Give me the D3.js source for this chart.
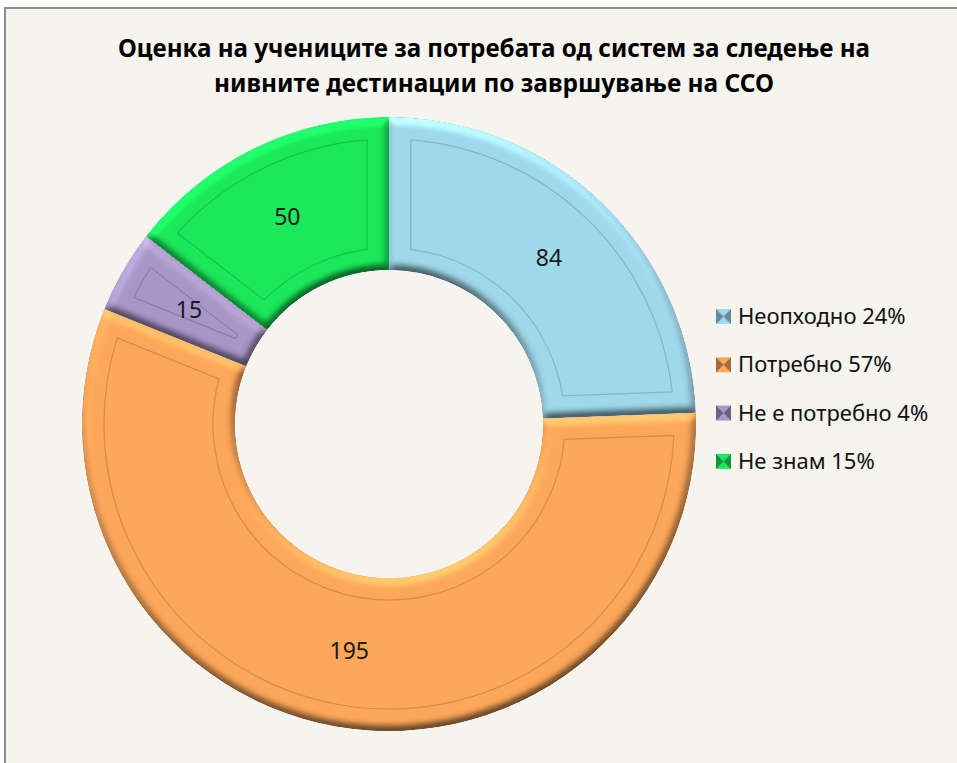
<!DOCTYPE html>
<html>
<head>
<meta charset="utf-8">
<script src="https://cdn.jsdelivr.net/npm/d3@7"></script>
<style>
  html, body { margin: 0; padding: 0; background: #ffffff; }
  svg { display: block; }
</style>
</head>
<body>
<svg id="chart"></svg>
<script>
// chart data
const categories = ["Неопходно", "Потребно", "Не е потребно", "Не знам"];
const values = [84, 195, 15, 50];
const colors = ["#9fd8ea", "#fda75a", "#a897c6", "#1be95b"];
const titleLines = [
    "Оценка на учениците за потребата од систем за следење на",
    "нивните дестинации по завршување на ССО"
];

const W = 957, H = 763;
const cx = 389, cy = 424;
const outerR = 307, innerR = 154;
const titleWidths = [752, 560];

const svg = d3.select("#chart").attr("width", W).attr("height", H);

// bevel filter, light from the top
const defs = svg.append("defs");
const f = defs.append("filter").attr("id", "bevel")
    .attr("x", "-5%").attr("y", "-5%").attr("width", "110%").attr("height", "110%")
    .attr("color-interpolation-filters", "sRGB");
f.append("feGaussianBlur").attr("in", "SourceAlpha").attr("stdDeviation", 4).attr("result", "blur");
f.append("feDiffuseLighting").attr("in", "blur").attr("surfaceScale", 6)
    .attr("diffuseConstant", 1).attr("lighting-color", "#ffffff").attr("result", "light")
    .append("feDistantLight").attr("azimuth", 255).attr("elevation", 45);
// keep the shaded edges as a darker tint of the fill, not black
f.append("feComposite").attr("in", "SourceGraphic").attr("in2", "light")
    .attr("operator", "arithmetic").attr("k1", 0.75).attr("k2", 0.47).attr("k3", 0).attr("k4", 0)
    .attr("result", "lit");
f.append("feComposite").attr("in", "lit").attr("in2", "SourceAlpha").attr("operator", "in");

// background panel
svg.append("rect")
    .attr("x", 5).attr("y", 8).attr("width", W + 20).attr("height", H + 20)
    .attr("fill", "#f5f4ee").attr("stroke", "#8c8c8c").attr("stroke-width", 2);

// title
svg.append("g").selectAll("text")
    .data(titleLines)
    .join("text")
    .attr("x", 494)
    .attr("y", (d, i) => 57 + i * 35)
    .attr("text-anchor", "middle")
    .attr("textLength", (d, i) => titleWidths[i])
    .attr("lengthAdjust", "spacingAndGlyphs")
    .style("font-family", "'Noto Sans', sans-serif")
    .style("font-weight", "bold")
    .style("font-size", "25px")
    .attr("fill", "#000")
    .text(d => d);

// donut
const pie = d3.pie().sort(null).value(d => d);
const slices = pie(values);
const arc = d3.arc().innerRadius(innerR).outerRadius(outerR);
const groove = d3.arc().innerRadius(innerR + 22).outerRadius(outerR - 22)
    .padRadius(100).padAngle(0.44);

const donut = svg.append("g").attr("transform", `translate(${cx},${cy})`);

donut.selectAll("path.slice")
    .data(slices)
    .join("path")
    .attr("class", "slice")
    .attr("d", arc)
    .attr("fill", (d, i) => colors[i])
    .attr("filter", "url(#bevel)");

donut.selectAll("path.groove")
    .data(slices)
    .join("path")
    .attr("class", "groove")
    .attr("d", groove)
    .attr("fill", "none")
    .attr("stroke", (d, i) => d3.color(colors[i]).darker(1))
    .attr("stroke-opacity", 0.55)
    .attr("stroke-width", 1.2);

donut.selectAll("text.value")
    .data(slices)
    .join("text")
    .attr("class", "value")
    .attr("transform", d => `translate(${arc.centroid(d)})`)
    .attr("text-anchor", "middle")
    .attr("dy", "0.36em")
    .style("font-family", "'Noto Sans', sans-serif")
    .style("font-size", "23px")
    .attr("fill", "#1a1a1a")
    .text(d => d.data);

// legend
const total = d3.sum(values);
const legend = svg.append("g").attr("transform", "translate(716,309)");
const rows = legend.selectAll("g")
    .data(categories)
    .join("g")
    .attr("transform", (d, i) => `translate(0,${i * 48.3})`);

rows.append("rect")
    .attr("width", 15).attr("height", 15)
    .attr("fill", (d, i) => colors[i]);
rows.append("path")
    .attr("d", "M0,0L7.5,7.5L0,15ZM15,0L7.5,7.5L15,15Z")
    .attr("fill", (d, i) => d3.color(colors[i]).darker(1.2));

rows.append("text")
    .attr("x", 22)
    .attr("y", 15)
    .style("font-family", "'Noto Sans', sans-serif")
    .style("font-size", "22px")
    .attr("fill", "#111")
    .text((d, i) => `${d} ${Math.round(values[i] / total * 100)}%`);
</script>
</body>
</html>
